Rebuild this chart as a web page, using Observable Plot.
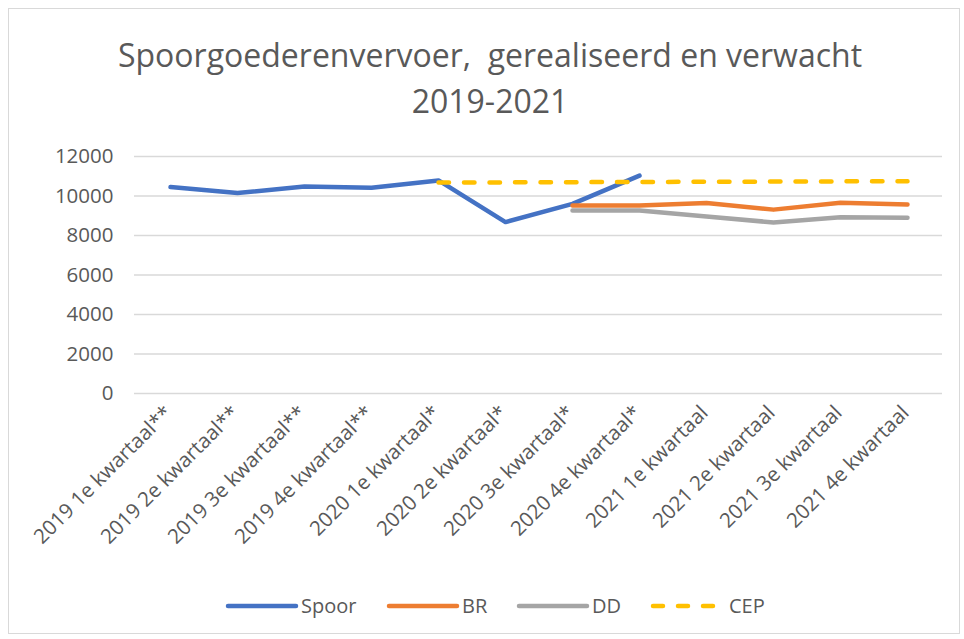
<!DOCTYPE html>
<html>
<head>
<meta charset="utf-8">
<script src="https://cdn.jsdelivr.net/npm/d3@7"></script>
<script src="https://cdn.jsdelivr.net/npm/@observablehq/plot@0.6"></script>
<style>
  body { margin: 0; background: #fff; font-family: "Open Sans", "Liberation Sans", sans-serif; }
  #wrap { position: relative; width: 964px; height: 639px; overflow: hidden; }
  #frame { position: absolute; left: 8px; top: 8px; width: 952px; height: 626px; border: 1px solid #d9d9d9; box-sizing: border-box; }
  #chart { position: absolute; left: 0; top: 0; }
  #title { position: absolute; left: 0; top: 0; }
  #legend { position: absolute; top: 590px; left: 0; }
</style>
</head>
<body>
<div id="wrap">
  <div id="frame"></div>
  <div id="chart"></div>
  <svg id="title" width="964" height="130"></svg>
  <svg id="legend" width="964" height="32"></svg>
</div>
<script>
const titleLines = ["Spoorgoederenvervoer,\u00a0 gerealiseerd en verwacht", "2019-2021"];
const categories = [
  "2019 1e kwartaal**", "2019 2e kwartaal**", "2019 3e kwartaal**", "2019 4e kwartaal**",
  "2020 1e kwartaal*", "2020 2e kwartaal*", "2020 3e kwartaal*", "2020 4e kwartaal*",
  "2021 1e kwartaal", "2021 2e kwartaal", "2021 3e kwartaal", "2021 4e kwartaal"
];
const seriesNames = ["Spoor", "BR", "DD", "CEP"];
const seriesColors = ["#4472C4", "#ED7D31", "#A5A5A5", "#FFC000"];
const spoor = [10450, 10150, 10480, 10420, 10790, 8680, 9600, 11030, null, null, null, null];
const br    = [null, null, null, null, null, null, 9520, 9520, 9650, 9310, 9660, 9570];
const dd    = [null, null, null, null, null, null, 9270, 9260, 8960, 8660, 8920, 8900];
const cep   = [null, null, null, null, 10680, 10690, 10700, 10710, 10720, 10730, 10740, 10750];
const yTicks = [0, 2000, 4000, 6000, 8000, 10000, 12000];

const valuesBySeries = [spoor, br, dd, cep];
const rows = [];
seriesNames.forEach((s, i) => {
  valuesBySeries[i].forEach((v, j) => {
    if (v != null) rows.push({series: s, cat: categories[j], value: v});
  });
});

const fontFam = '"Open Sans", "Liberation Sans", sans-serif';
const plot = Plot.plot({
  width: 964,
  height: 639,
  marginTop: 156,
  marginBottom: 246,
  marginLeft: 134,
  marginRight: 22,
  style: {fontFamily: fontFam, color: "#595959", background: "transparent"},
  x: {type: "point", domain: categories, padding: 0.5, label: null},
  y: {domain: [0, 12000], label: null},
  color: {domain: seriesNames, range: seriesColors},
  marks: [
    Plot.gridY(yTicks, {stroke: "#d9d9d9", strokeOpacity: 1, strokeWidth: 1.5}),
    Plot.axisY(yTicks, {tickSize: 0, tickPadding: 21, fontSize: 20.5, fill: "#595959", label: null, tickFormat: d => String(d)}),
    Plot.axisX({tickSize: 0, tickPadding: 16, tickRotate: -45, fontSize: 20.5, fill: "#595959", label: null, dx: -2}),
    ...seriesNames.map(s => Plot.line(rows.filter(r => r.series === s), {
      x: "cat", y: "value", stroke: "series",
      strokeWidth: 4.5,
      strokeLinecap: "round",
      strokeLinejoin: "round",
      strokeDasharray: s === "CEP" ? "10.5,15" : null
    }))
  ]
});
document.getElementById("chart").appendChild(plot);

// Title
const t = d3.select("#title");
t.selectAll("text").data(titleLines).join("text")
  .attr("x", 490).attr("y", (d, i) => 67 + i * 46)
  .attr("text-anchor", "middle")
  .attr("fill", "#595959").attr("font-size", 32).attr("font-family", fontFam)
  .text(d => d);

// Legend built from the series arrays
const legend = d3.select("#legend");
const lineStarts = [226, 387, 517, 651];
seriesNames.forEach((s, i) => {
  const x0 = lineStarts[i];
  const len = 70;
  legend.append("line")
    .attr("x1", x0 + 2).attr("x2", x0 + len).attr("y1", 16).attr("y2", 16)
    .attr("stroke", seriesColors[i]).attr("stroke-width", 4.5)
    .attr("stroke-linecap", "round")
    .attr("stroke-dasharray", s === "CEP" ? "10,15" : null);
  legend.append("text")
    .attr("x", x0 + len + (s === "CEP" ? 8 : 5)).attr("y", 23)
    .attr("fill", "#595959").attr("font-size", 20).attr("font-family", fontFam)
    .text(s);
});
</script>
</body>
</html>
